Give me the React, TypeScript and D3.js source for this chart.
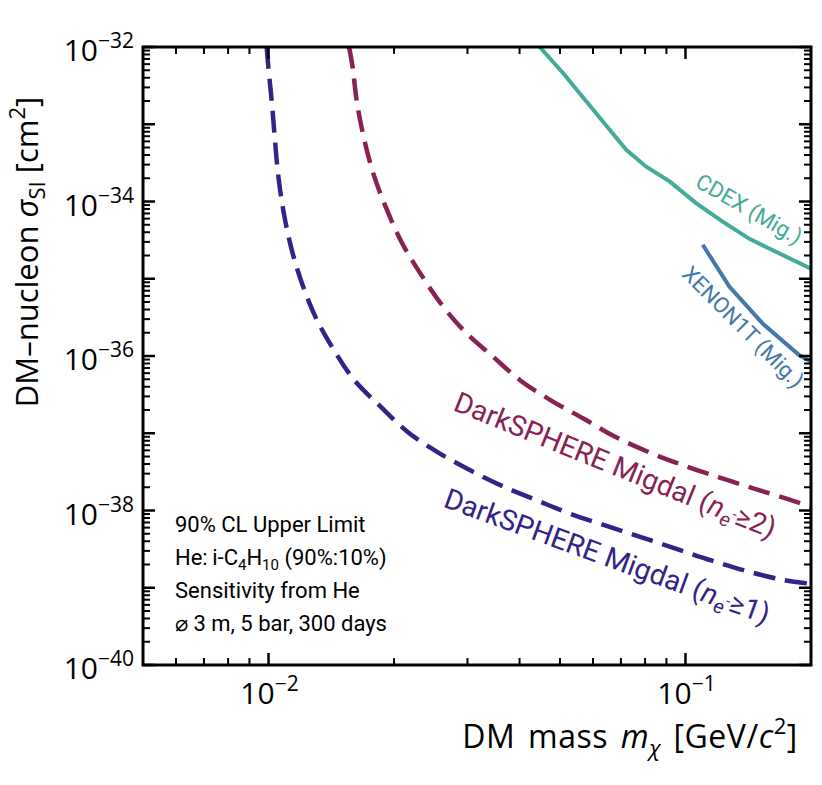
import React from "react";
import * as d3 from "d3";

const W = 822;
const H = 785;
const PLOT = { left: 143, right: 811, top: 47, bottom: 665 };

const xDomain = [0.005, 0.2];
const yDomain = [1e-40, 1e-32];

// DarkSPHERE Migdal (n_e >= 1)
const n1Mass = [0.0099, 0.00999, 0.01019, 0.01036, 0.01056, 0.01088, 0.01136, 0.01205, 0.013, 0.01438, 0.0161, 0.0186, 0.02164, 0.02554, 0.0307, 0.0366, 0.0441, 0.0528, 0.0647, 0.0788, 0.0955, 0.1159, 0.1415, 0.1722, 0.2];
const n1LogSigma = [-32, -32.26, -32.73, -33.2, -33.68, -34.15, -34.62, -35.07, -35.51, -35.93, -36.32, -36.66, -36.99, -37.25, -37.49, -37.69, -37.87, -38.04, -38.2, -38.35, -38.5, -38.65, -38.79, -38.9, -38.95];

// DarkSPHERE Migdal (n_e >= 2)
const n2Mass = [0.0156, 0.01589, 0.0163, 0.01694, 0.01784, 0.0192, 0.02087, 0.02312, 0.02597, 0.02965, 0.0344, 0.04026, 0.04776, 0.0569, 0.068, 0.083, 0.0983, 0.1203, 0.1467, 0.1754, 0.2];
const n2LogSigma = [-32, -32.24, -32.72, -33.18, -33.64, -34.1, -34.53, -34.93, -35.33, -35.69, -36.0, -36.32, -36.58, -36.81, -37.05, -37.26, -37.41, -37.57, -37.72, -37.85, -37.95];

// CDEX (Mig.)
const cdexMass = [0.0447, 0.0509, 0.0611, 0.0721, 0.0805, 0.0916, 0.106, 0.1228, 0.142, 0.1647, 0.2];
const cdexLogSigma = [-32, -32.34, -32.86, -33.33, -33.55, -33.74, -34.02, -34.26, -34.48, -34.65, -34.87];

// XENON1T (Mig.)
const xenonMass = [0.11, 0.1274, 0.1531, 0.1876, 0.2];
const xenonLogSigma = [-34.56, -35.1, -35.58, -35.99, -36.07];

const yMajorExponents = [-40, -39, -38, -37, -36, -35, -34, -33, -32];
const yLabelExponents = [-40, -38, -36, -34, -32];
const xMajorExponents = [-2, -1];

const annotationLines = ["90% CL Upper Limit", "He: i-C4H10 (90%:10%)", "Sensitivity from He", "⌀ 3 m, 5 bar, 300 days"];

const COLORS = {
  n1: "#332288",
  n2: "#882255",
  cdex: "#44AA99",
  xenon: "#4477AA",
};

const x = d3.scaleLog().domain(xDomain).range([PLOT.left, PLOT.right]);
const y = d3.scaleLog().domain(yDomain).range([PLOT.bottom, PLOT.top]);

function pts(mass: number[], logS: number[]): [number, number][] {
  return mass.map((m, i) => [x(m), y(Math.pow(10, logS[i]))]);
}

const smooth = d3.line().curve(d3.curveCatmullRom.alpha(0.5));
const straight = d3.line();

const TICK_FONT = "'Open Sans', 'Noto Sans', sans-serif";
const ROBOTO = "Roboto, sans-serif";

export default function App() {
  const yMinor: number[] = [];
  for (let e = -40; e < -32; e++) for (let j = 2; j <= 9; j++) yMinor.push(j * Math.pow(10, e));
  const xMinor: number[] = [];
  for (let e = -3; e <= -1; e++)
    for (let j = 2; j <= 9; j++) {
      const v = j * Math.pow(10, e);
      if (v > xDomain[0] * 1.0001 && v < xDomain[1] * 0.9999) xMinor.push(v);
    }

  const MAJ = 12;
  const MIN = 7;

  return (
    <svg width={W} height={H} style={{ display: "block", position: "absolute", left: 0, top: 0 }}>
      <rect width={W} height={H} fill="#fff" />
      <defs>
        <clipPath id="plotclip">
          <rect x={PLOT.left} y={PLOT.top} width={PLOT.right - PLOT.left} height={PLOT.bottom - PLOT.top} />
        </clipPath>
      </defs>

      <g clipPath="url(#plotclip)" fill="none">
        <path d={straight(pts(cdexMass, cdexLogSigma)) || ""} stroke={COLORS.cdex} strokeWidth={4} />
        <path d={straight(pts(xenonMass, xenonLogSigma)) || ""} stroke={COLORS.xenon} strokeWidth={4} />
        <path d={smooth(pts(n2Mass, n2LogSigma)) || ""} stroke={COLORS.n2} strokeWidth={4.5} strokeDasharray="22 10" />
        <path d={smooth(pts(n1Mass, n1LogSigma)) || ""} stroke={COLORS.n1} strokeWidth={4.5} strokeDasharray="22 10" />
      </g>

      <g stroke="#000">
        {yMajorExponents.map((e) => {
          const yy = y(Math.pow(10, e));
          return (
            <g key={"ym" + e} strokeWidth={2.5}>
              <line x1={PLOT.left} x2={PLOT.left + MAJ} y1={yy} y2={yy} />
              <line x1={PLOT.right} x2={PLOT.right - MAJ} y1={yy} y2={yy} />
            </g>
          );
        })}
        {yMinor.map((v, i) => {
          const yy = y(v);
          return (
            <g key={"yn" + i} strokeWidth={2}>
              <line x1={PLOT.left} x2={PLOT.left + MIN} y1={yy} y2={yy} />
              <line x1={PLOT.right} x2={PLOT.right - MIN} y1={yy} y2={yy} />
            </g>
          );
        })}
        {xMajorExponents.map((e) => {
          const xx = x(Math.pow(10, e));
          return (
            <g key={"xm" + e} strokeWidth={2.5}>
              <line x1={xx} x2={xx} y1={PLOT.bottom} y2={PLOT.bottom - MAJ} />
              <line x1={xx} x2={xx} y1={PLOT.top} y2={PLOT.top + MAJ} />
            </g>
          );
        })}
        {xMinor.map((v, i) => {
          const xx = x(v);
          return (
            <g key={"xn" + i} strokeWidth={2}>
              <line x1={xx} x2={xx} y1={PLOT.bottom} y2={PLOT.bottom - MIN} />
              <line x1={xx} x2={xx} y1={PLOT.top} y2={PLOT.top + MIN} />
            </g>
          );
        })}
      </g>

      <rect
        x={PLOT.left}
        y={PLOT.top}
        width={PLOT.right - PLOT.left}
        height={PLOT.bottom - PLOT.top}
        fill="none"
        stroke="#000"
        strokeWidth={3}
      />

      <g fontFamily={TICK_FONT} fontSize={30} fill="#000">
        {yLabelExponents.map((e) => (
          <text key={"yl" + e} x={134} y={y(Math.pow(10, e)) + 14} textAnchor="end">
            10
            <tspan dy={-13} fontSize={21}>
              {"−" + Math.abs(e)}
            </tspan>
          </text>
        ))}
        {xMajorExponents.map((e) => (
          <text key={"xl" + e} x={x(Math.pow(10, e)) + 1} y={704} textAnchor="middle">
            10
            <tspan dy={-13} fontSize={21}>
              {"−" + Math.abs(e)}
            </tspan>
          </text>
        ))}
      </g>

      <g fontFamily={TICK_FONT} fill="#000">
        <text x={630} y={748} textAnchor="middle" fontSize={32} letterSpacing={0.5} wordSpacing={4}>
          DM mass{" "}
          <tspan fontStyle="italic">m</tspan>
          <tspan fontStyle="italic" fontSize={22} dy={8}>
            χ
          </tspan>
          <tspan dy={-8}> [GeV/</tspan>
          <tspan fontStyle="italic">c</tspan>
          <tspan fontSize={22} dy={-14}>
            2
          </tspan>
          <tspan dy={14}>]</tspan>
        </text>
        <text transform="translate(38,252) rotate(-90)" textAnchor="middle" fontSize={31}>
          DM–nucleon <tspan fontStyle="italic">σ</tspan>
          <tspan fontSize={22} dy={7}>
            SI
          </tspan>
          <tspan dy={-7}> [cm</tspan>
          <tspan fontSize={22} dy={-13}>
            2
          </tspan>
          <tspan dy={13}>]</tspan>
        </text>
      </g>

      <g fontFamily={ROBOTO} fontSize={22} fill="#000">
        <text x={175} y={532}>{annotationLines[0]}</text>
        <text x={175} y={565}>
          He:{"\u2009"}i-C
          <tspan fontSize={15} dy={5}>
            4
          </tspan>
          <tspan dy={-5}>H</tspan>
          <tspan fontSize={15} dy={5}>
            10
          </tspan>
          <tspan dy={-5}> (90%:10%)</tspan>
        </text>
        <text x={175} y={598}>{annotationLines[2]}</text>
        <text x={175} y={631}>{annotationLines[3]}</text>
      </g>

      <g fontFamily={ROBOTO}>
        <text
          transform="translate(749,209) rotate(30)"
          textAnchor="middle"
          dominantBaseline="central"
          fontSize={22}
          fill={COLORS.cdex}
        >
          CDEX (Mig.)
        </text>
        <text
          transform="translate(743,327) rotate(45)"
          textAnchor="middle"
          dominantBaseline="central"
          fontSize={22}
          fill={COLORS.xenon}
        >
          XENON1T (Mig.)
        </text>
        <text transform="translate(615,466) rotate(22)" textAnchor="middle" fontSize={28.5} fill={COLORS.n2} dy={9}>
          DarkSPHERE Migdal (<tspan fontStyle="italic">n</tspan>
          <tspan fontStyle="italic" fontSize={20} dy={6}>
            e
          </tspan>
          <tspan fontSize={15} dy={-10}>
            -
          </tspan>
          <tspan dy={4}>≥2)</tspan>
        </text>
        <text transform="translate(607,557) rotate(20)" textAnchor="middle" fontSize={28.5} fill={COLORS.n1} dy={9}>
          DarkSPHERE Migdal (<tspan fontStyle="italic">n</tspan>
          <tspan fontStyle="italic" fontSize={20} dy={6}>
            e
          </tspan>
          <tspan fontSize={15} dy={-10}>
            -
          </tspan>
          <tspan dy={4}>≥1)</tspan>
        </text>
      </g>
    </svg>
  );
}
